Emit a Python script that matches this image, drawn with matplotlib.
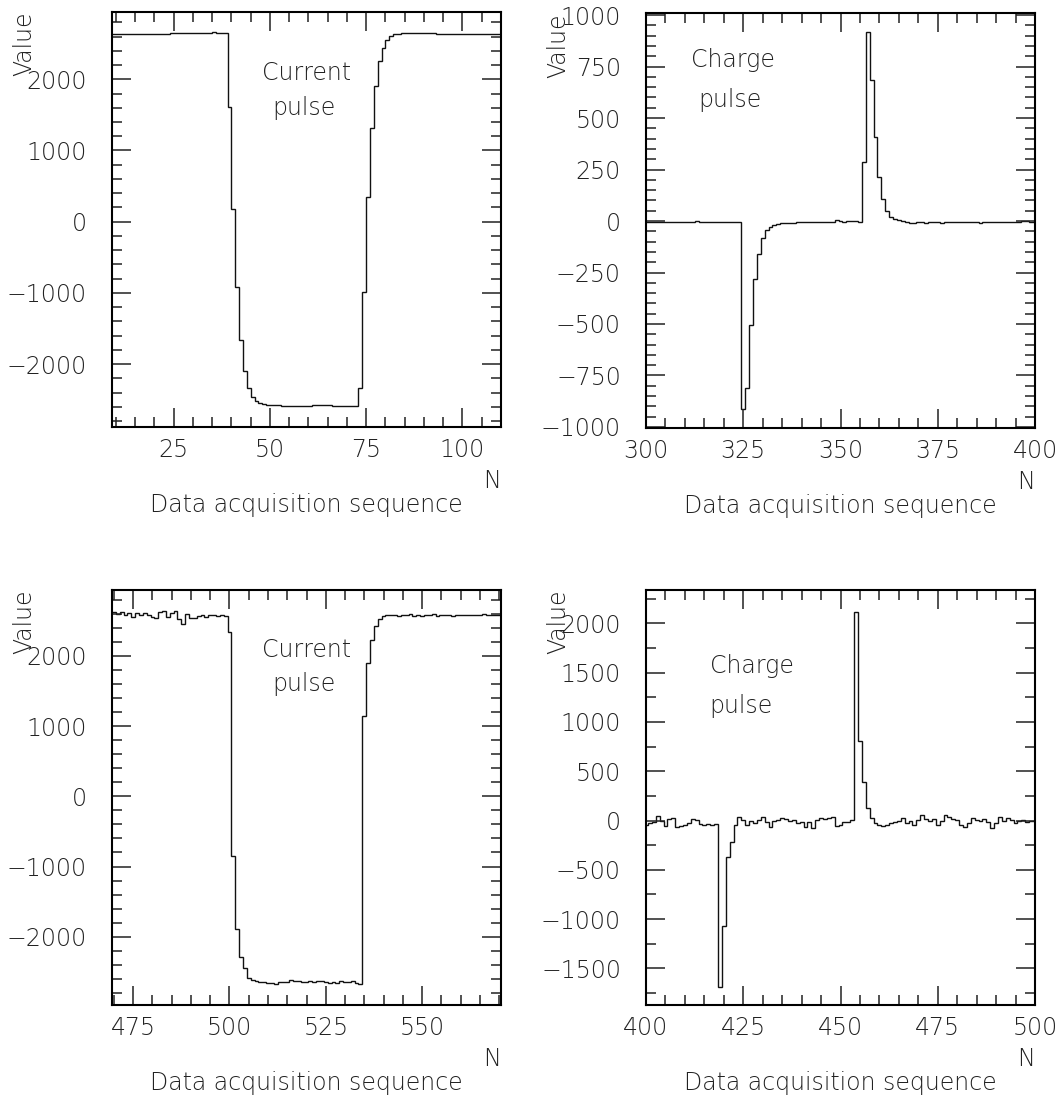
import numpy as np
import matplotlib
matplotlib.use("Agg")
import matplotlib.pyplot as plt
from matplotlib.ticker import MultipleLocator

plt.rcParams['font.family'] = ['DejaVu Sans']
plt.rcParams['font.weight'] = 'light'

# --- data: one value per acquisition step (bin width 1) ---
# top left: current pulse, bins 9..109 (edges on integers)
cur1_first_edge = 9
cur1_vals = [2634, 2636, 2635, 2634, 2635, 2636, 2635, 2634, 2635, 2636, 2635, 2635, 2636, 2637, 2640,
             2644, 2645, 2646, 2645, 2648, 2652,
             2655, 2652, 2657, 2654, 2656, 2658, 2655, 2654, 2650,
             1605, 178, -921, -1660, -2091, -2330, -2456, -2516, -2549, -2563, -2572, -2576,
             -2580, -2582, -2584, -2585, -2586, -2587, -2587, -2586, -2585, -2583, -2581,
             -2580, -2580, -2581, -2582, -2583, -2585, -2586, -2587, -2587, -2588, -2588,
             -2330, -991, 351, 1311, 1905, 2255, 2442, 2550, 2606, 2630, 2640,
             2645, 2647, 2648, 2647, 2646, 2646, 2645, 2645, 2644, 2643, 2642, 2640, 2639,
             2638, 2637, 2637, 2636, 2636, 2636, 2635, 2635, 2635, 2636, 2636, 2636, 2636]

# top right: charge pulse, bins 300..400 (centred on integers)
chg1_first_edge = 299.5
chg1_vals = [-4, -6, -5, -7, -5, -4, -6, -5, -3, -5, -6, -4, -5, 2, -3, -5, -6, -4, -7, -5,
             -3, -6, -5, -4, -5,
             -911, -813, -507, -281, -159, -81, -45, -29, -20, -15, -11, -10, -8, -8, -7, -7,
             -6, -5, -7, -4, -5, -3, -6, -4, 3, -2, -3, 0, -2, -1, -3,
             288, 916, 686, 406, 215, 106, 49, 20, 11, 5, 0, -5,
             -8, -9, -7, -6, -8, -7, -5, -6, -8, -7, -5, -4, -6, -7, -5, -6, -4, -7, -8, -5,
             -6, -4, -5, -7, -6, -4, -5, -6, -5, 2, 0, -3, -4]

# bottom left: current pulse, bins 470..570
cur2_first_edge = 469.5
cur2_vals = [2626, 2602, 2626, 2579, 2617, 2555, 2617, 2590, 2612, 2579, 2560, 2540, 2626, 2640, 2555,
             2612, 2645, 2531, 2460, 2602, 2540, 2545, 2565, 2579, 2555, 2585, 2590, 2575, 2580, 2570,
             2347, -855, -1885, -2289, -2446, -2583,
             -2621, -2630, -2645, -2650, -2660, -2662, -2669, -2650, -2645, -2640, -2621, -2635,
             -2630, -2645, -2650, -2625, -2640, -2635, -2630, -2650, -2655, -2640, -2660, -2635,
             -2645, -2650, -2630, -2655, -2669,
             1144, 1900, 2222, 2426, 2531,
             2570, 2585, 2590, 2580, 2575, 2585, 2580, 2595, 2570, 2585, 2575, 2590, 2580, 2600,
             2575, 2590, 2580, 2585, 2575, 2590, 2580, 2585, 2590, 2580, 2578, 2582, 2600, 2585,
             2580, 2578, 2580]

# bottom right: charge pulse, bins 400..500
chg2_first_edge = 399.5
chg2_vals = [-46, -29, -12, 45, -2, -56, 12, 25, -62, -52, -46, -29, 12, 5, -40, -46, -35, -46, -40,
             -1686, -1067, -367, -215, -46,
             32, 5, -46, -2, -22, 5, 32, -12, -62, -2, 5, 22, 12, -2, 5, -22, -12, -62, -12, -79,
             5, 22, 12, 22, 32, -56, -46, -12, -20, 10,
             2111, 810, 394, 130, 29,
             -28, -46, -56, -50, -29, -12, -2, 22, -22, -2, -46, 5, 55, 12, -2, 12, -46, -2, 55, 32,
             12, 5, -46, -62, -22, 22, 5, -2, 12, -12, -79, -29, 39, -2, 22, 5, -22, -2, 5, -12, 0, -5]

W, H = 1062, 1099
fig = plt.figure(figsize=(W / 100, H / 100), dpi=100)
AW, AH = 389, 415


def panel(left, top, first_edge, vals, xlim, ylim, xmaj, ymaj, ymin, notes):
    ax = fig.add_axes([left / W, 1 - (top + AH) / H, AW / W, AH / H])
    edges = first_edge + np.arange(len(vals) + 1)
    ax.stairs(vals, edges, baseline=None, color='#111111', lw=1.0)
    ax.set_xlim(*xlim)
    ax.set_ylim(*ylim)
    ax.xaxis.set_major_locator(MultipleLocator(xmaj))
    ax.xaxis.set_minor_locator(MultipleLocator(5))
    ax.yaxis.set_major_locator(MultipleLocator(ymaj))
    ax.yaxis.set_minor_locator(MultipleLocator(ymin))
    ax.tick_params(which='both', direction='in', top=True, right=True,
                   labelsize=17, width=1.1, color='#222222', labelcolor='#222222')
    ax.tick_params(which='major', length=13.5)
    ax.tick_params(which='minor', length=7)
    ax.tick_params(axis='y', pad=18)
    ax.tick_params(axis='x', pad=8)
    for s in ax.spines.values():
        s.set_linewidth(1.5)
    for txt, xc, yb in notes:
        ax.text((xc - left) / AW, 1 - (yb - top) / AH, txt, transform=ax.transAxes,
                ha='center', va='baseline', fontsize=17, color='#222222')
    fig.text((left - 88) / W, 1 - top / H, 'Value', rotation=90,
             ha='center', va='top', fontsize=17, color='#222222')
    fig.text((left + AW - 9) / W, 1 - (top + AH + 54) / H, 'N',
             ha='center', va='center', fontsize=17, color='#222222')
    fig.text((left + AW / 2) / W, 1 - (top + AH + 78) / H, 'Data acquisition sequence',
             ha='center', va='center', fontsize=17, color='#222222')
    return ax


panel(112, 12, cur1_first_edge, cur1_vals, (9, 110), (-2884, 2945), 25, 1000, 200,
      [('Current', 306, 80), ('pulse', 303.5, 115)])
panel(646, 13, chg1_first_edge, chg1_vals, (300, 400), (-1005, 1010), 25, 250, 50,
      [('Charge', 733, 67), ('pulse', 729.5, 107)])
panel(112, 590, cur2_first_edge, cur2_vals, (469.5, 570.5), (-2973, 2940), 25, 1000, 200,
      [('Current', 306, 657), ('pulse', 303.5, 691)])
panel(646, 590, chg2_first_edge, chg2_vals, (400, 500), (-1871, 2338), 25, 500, 250,
      [('Charge', 752, 673), ('pulse', 740.5, 713)])

fig.savefig('out.png', dpi=100)
